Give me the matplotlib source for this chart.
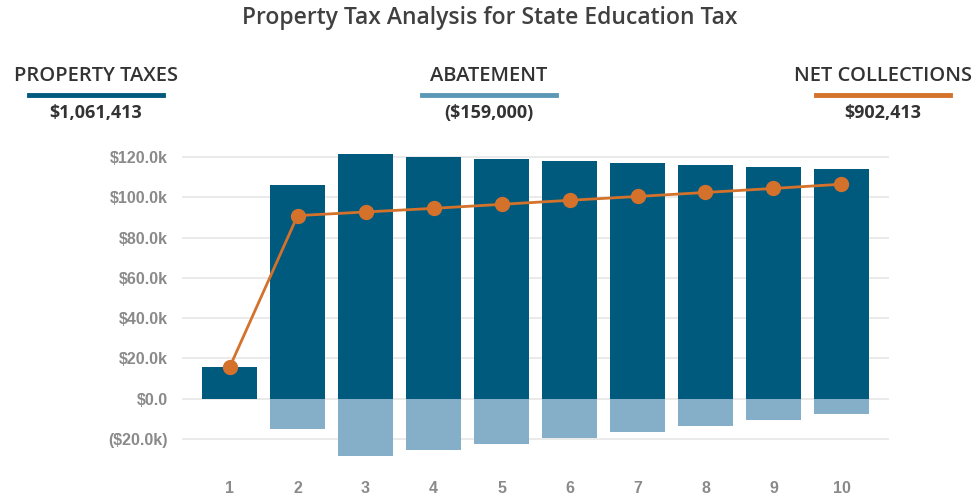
import numpy as np
import matplotlib.pyplot as plt
from matplotlib.lines import Line2D
from matplotlib.ticker import FuncFormatter

years = [1, 2, 3, 4, 5, 6, 7, 8, 9, 10]
property_taxes = [15700, 106100, 121500, 120100, 119100, 118100, 117100, 116100, 115100, 114100]
abatement = [0, -15000, -28500, -25500, -22500, -19500, -16500, -13500, -10500, -7500]
net_collections = [15600, 91000, 92800, 94600, 96600, 98600, 100500, 102500, 104500, 106600]

legend_names = ['PROPERTY TAXES', 'ABATEMENT', 'NET COLLECTIONS']
legend_totals = ['$1,061,413', '($159,000)', '$902,413']

dark_blue = '#005a7e'
light_blue = '#85aec8'
legend_light = '#5b97b7'
orange = '#d4722b'

fig = plt.figure(figsize=(9.76, 4.99), dpi=100)
ax = fig.add_axes([0.1865, 0.072, 0.7244, 0.629])

ax.bar(years, property_taxes, width=0.81, color=dark_blue, zorder=2)
ax.bar(years, abatement, width=0.81, color=light_blue, zorder=2)
ax.plot(years, net_collections, color=orange, lw=2, marker='o', markersize=10, zorder=3)

ax.set_xlim(0.3, 10.7)
ax.set_ylim(-32000, 124000)
ax.set_yticks(np.arange(-20000, 120001, 20000))
ax.set_xticks(years)

def money(v, pos):
    if v < 0:
        return '(${:.1f}k)'.format(-v / 1000)
    if v == 0:
        return '$0.0'
    return '${:.1f}k'.format(v / 1000)

ax.yaxis.set_major_formatter(FuncFormatter(money))
ax.grid(axis='y', color='#e6e6e6', lw=1.2, zorder=0)
for s in ax.spines.values():
    s.set_visible(False)
ax.tick_params(length=0)
ax.tick_params(axis='y', pad=10)
ax.tick_params(axis='x', pad=13)
for lab in ax.get_yticklabels() + ax.get_xticklabels():
    lab.set_fontfamily('Liberation Sans')
    lab.set_fontweight('bold')
    lab.set_color('#8a8a8a')
    lab.set_fontsize(11.5)

fig.text(0.502, 0.963, 'Property Tax Analysis for State Education Tax', ha='center', va='center',
         fontsize=16.5, fontweight='semibold', color='#404040', family='Open Sans')

centers = [96, 489, 883]
colors = [dark_blue, legend_light, orange]
for cx, name, total, c in zip(centers, legend_names, legend_totals, colors):
    x = cx / 976
    fig.text(x, 1 - 76 / 499, name, ha='center', va='center', fontsize=14.5,
             fontweight='semibold', color='#333333', family='Open Sans')
    fig.add_artist(Line2D([x - 67 / 976, x + 67 / 976], [1 - 95 / 499, 1 - 95 / 499],
                          color=c, lw=3.5, transform=fig.transFigure))
    fig.text(x, 1 - 113 / 499, total, ha='center', va='center', fontsize=13,
             fontweight='bold', color='#333333', family='Open Sans')

fig.savefig('out.png', dpi=100)
